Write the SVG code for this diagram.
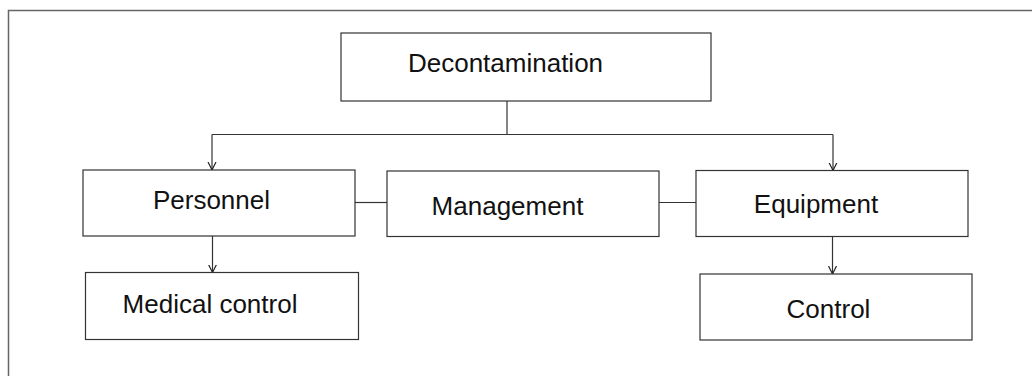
<svg xmlns="http://www.w3.org/2000/svg" width="1032" height="376" viewBox="0 0 1032 376">
<style>
.box{fill:#fff;stroke:#333;stroke-width:1.2}
.lbl{font-family:"Liberation Sans",Arial,sans-serif;font-size:26px;fill:#111;text-anchor:middle}
.ln{fill:none;stroke:#333;stroke-width:1.2}
.frame{fill:none;stroke:#666;stroke-width:1.5}
</style>
<defs>
<marker id="arr" markerWidth="10" markerHeight="10" refX="8" refY="5" orient="auto" markerUnits="userSpaceOnUse">
<path d="M0,1 L8,5 L0,9" fill="none" stroke="#222" stroke-width="1.2"/>
</marker>
</defs>
<rect width="1032" height="376" fill="#fff"/>
<path class="frame" d="M8.5,376 V10.5 H1032"/>
<g id="connectors">
<path class="ln" d="M507,101 V134.5"/>
<path class="ln" d="M212,134.5 H833"/>
<path class="ln" d="M212,134.5 V170" marker-end="url(#arr)"/>
<path class="ln" d="M833,134.5 V170.5" marker-end="url(#arr)"/>
<path class="ln" d="M355,202.5 H387"/>
<path class="ln" d="M659,202.5 H696"/>
<path class="ln" d="M212.5,236 V272.5" marker-end="url(#arr)"/>
<path class="ln" d="M832.5,236.5 V274" marker-end="url(#arr)"/>
</g>
<g id="decontamination">
<rect class="box" x="341" y="33" width="370" height="68"/>
<text class="lbl" x="505.5" y="72">Decontamination</text>
</g>
<g id="personnel">
<rect class="box" x="83" y="170" width="272" height="66"/>
<text class="lbl" x="211.5" y="209">Personnel</text>
</g>
<g id="management">
<rect class="box" x="387" y="171" width="272" height="65.5"/>
<text class="lbl" x="507.5" y="215">Management</text>
</g>
<g id="equipment">
<rect class="box" x="696" y="170.5" width="272" height="66"/>
<text class="lbl" x="816" y="212.5">Equipment</text>
</g>
<g id="medical-control">
<rect class="box" x="85.5" y="272.5" width="273" height="67"/>
<text class="lbl" x="210" y="313">Medical control</text>
</g>
<g id="control">
<rect class="box" x="700" y="274" width="272" height="66"/>
<text class="lbl" x="828.5" y="318">Control</text>
</g>
</svg>
